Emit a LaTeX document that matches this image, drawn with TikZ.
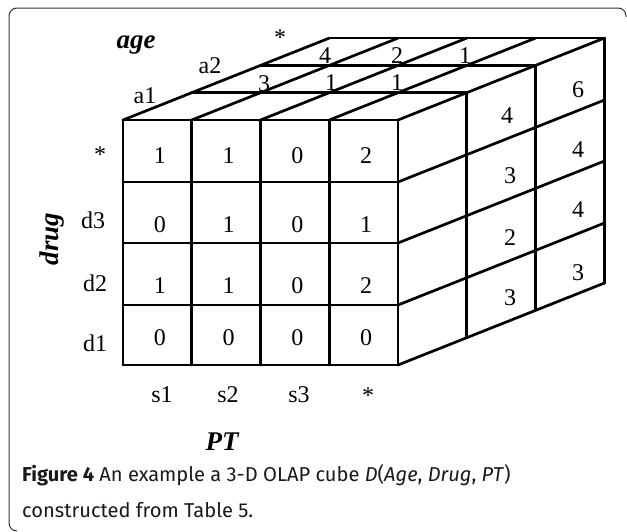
\documentclass[tikz,border=0pt]{standalone}
\usepackage{fontspec}
\setmainfont{Liberation Serif}
\newfontfamily\capfont{Fira Sans}
\tikzset{
  cubeline/.style={line width=2.7pt, line cap=round, line join=round},
  cellnum/.style={anchor=base, inner sep=0pt, font=\fontsize{24}{24}\selectfont},
  dimname/.style={anchor=base, inner sep=0pt, font=\fontsize{27}{27}\selectfont\bfseries\itshape},
  capline/.style={anchor=base west, inner sep=0pt, text=black!90,
    font=\fontsize{20.1}{20}\capfont},
  figframe/.style={line width=1pt, draw=black!80, rounded corners=8pt}
}
% cube size: cell width 68.75, front rows 120..365, depth step (68.75,-27.3)
\def\cw{68.75}
\def\ddx{68.75}
\def\ddy{-27.3}

\begin{document}
\begin{tikzpicture}[x=1pt,y=-1pt]
  \useasboundingbox (0,0) rectangle (627,531);
  \draw[figframe] (17,531) -- (9,531) -- (9,8) -- (626,8) -- (626,17);

  % front face
  \foreach \c in {0,...,4}
    \draw[cubeline] ({123+\cw*\c},120) -- ({123+\cw*\c},365);
  \foreach \r in {120,182,243,305,365}
    \draw[cubeline] (123,\r) -- (398,\r);
  % top face
  \foreach \k in {1,2,3}
    \draw[cubeline] ({123+\ddx*\k},{120+\ddy*\k}) -- ({398+\ddx*\k},{120+\ddy*\k});
  \foreach \c in {0,...,4}
    \draw[cubeline] ({123+\cw*\c},120) -- ++({3*\ddx},{3*\ddy});
  % right face
  \foreach \k in {1,2,3}
    \draw[cubeline] ({398+\ddx*\k},{120+\ddy*\k}) -- ({398+\ddx*\k},{365+\ddy*\k});
  \foreach \r in {182,243,305,365}
    \draw[cubeline] (398,\r) -- ++({3*\ddx},{3*\ddy});

  % counts on the front face
  \foreach \yb/\vals [count=\r] in {163/{1,1,0,2}, 232/{0,1,0,1}, 293/{1,1,0,2}, 345/{0,0,0,0}}
    \foreach \v [count=\i] in \vals
      \node[cellnum] (f-\r-\i) at ({123+\cw*(\i-0.5)+2.5},\yb) {\v};

  % counts on the top face
  \node[cellnum] (t-1-1) at (264,91) {3};
  \node[cellnum] (t-1-2) at (331,90) {1};
  \node[cellnum] (t-1-3) at (397,90) {1};
  \node[cellnum] (t-2-1) at (325,63) {4};
  \node[cellnum] (t-2-2) at (397,63) {2};
  \node[cellnum] (t-2-3) at (465,63) {1};

  % counts on the right face
  \node[cellnum] (s-1-2) at (507,123) {4};
  \node[cellnum] (s-1-3) at (578,97) {6};
  \node[cellnum] (s-2-2) at (510,183) {3};
  \node[cellnum] (s-2-3) at (578,157) {4};
  \node[cellnum] (s-3-2) at (510,245) {2};
  \node[cellnum] (s-3-3) at (578,217) {4};
  \node[cellnum] (s-4-2) at (510,305) {3};
  \node[cellnum] (s-4-3) at (578,280) {3};

  % member labels
  \node[cellnum] (drugall) at (100,162) {*};
  \node[cellnum] (d3) at (93,228) {d3};
  \node[cellnum] (d2) at (95,291) {d2};
  \node[cellnum] (d1) at (95,351) {d1};
  \node[cellnum] (s1) at (162,402) {s1};
  \node[cellnum] (s2) at (228,402) {s2};
  \node[cellnum] (s3) at (299,402) {s3};
  \node[cellnum] (ptall) at (368,403) {*};
  \node[cellnum] (a1) at (145,103) {a1};
  \node[cellnum] (a2) at (210,73) {a2};
  \node[cellnum] (ageall) at (280,45) {*};

  % dimension names
  \node[dimname] (age) at (136,48) {age};
  \node[dimname, anchor=center, rotate=90] (drug) at (52,239) {drug};
  \node[dimname] (pt) at (222,450) {PT};

  % caption
  \node[capline] (cap1) at (22,481)
    {\textbf{Figure 4} An example a 3-D OLAP cube \textit{D}(\textit{Age}, \textit{Drug}, \textit{PT})};
  \node[capline] (cap2) at (22,517) {constructed from Table 5.};
\end{tikzpicture}
\end{document}
